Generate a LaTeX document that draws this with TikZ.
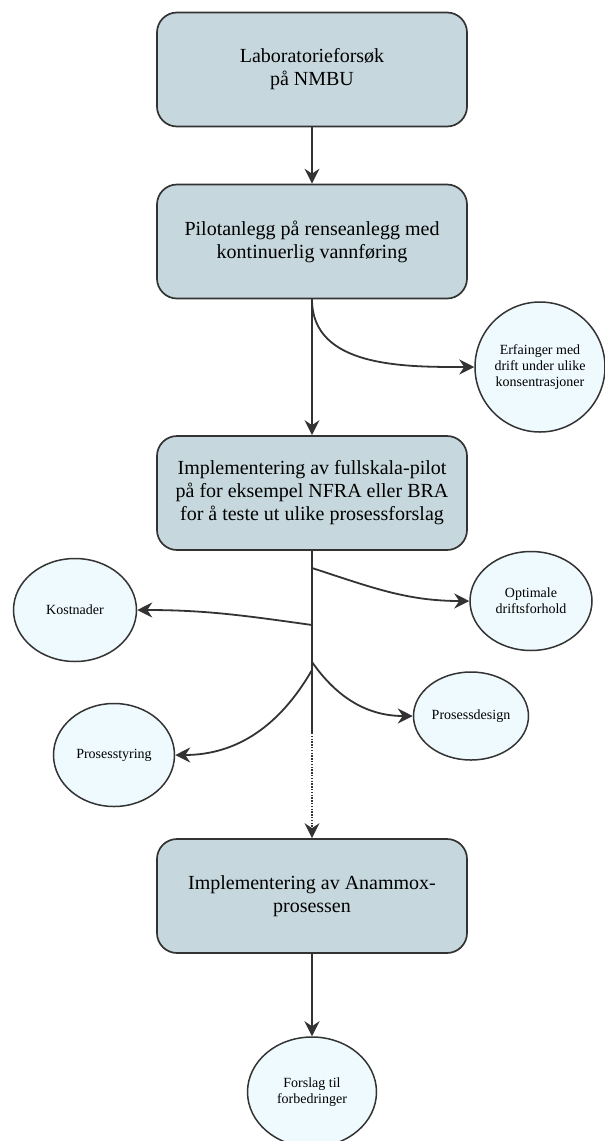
\documentclass[tikz,border=0pt]{standalone}
\usepackage{fontspec}
\setmainfont{Liberation Serif}
\usetikzlibrary{arrows.meta}
\usetikzlibrary{shapes.geometric}
\definecolor{stagefill}{HTML}{C6D8DD}
\definecolor{resultfill}{HTML}{EFFAFE}
\definecolor{ink}{HTML}{333333}
\tikzset{stage/.style = {draw = ink, line width = 1.7pt, fill = stagefill, rounded corners = 20pt,
                         minimum width = 310pt, minimum height = 114pt, align = center,
                         font = \fontsize{20}{23}\selectfont}}
\tikzset{result/.style = {draw = ink, line width = 1.5pt, fill = resultfill, ellipse, inner sep = 0,
                          align = center, font = \fontsize{14}{16}\selectfont}}
\tikzset{flow/.style = {draw = ink, line width = 1.8pt, -{Stealth[length = 15pt, width = 15pt, inset = 5pt]}}}

\begin{document}
\begin{tikzpicture}[x=1pt, y=1pt]
          \useasboundingbox (0, 0) rectangle (605, -1141);

          \node [stage] (lab) at (312, -69.5) {Laboratorieforsøk\\på NMBU};
          \node [stage] (pilot) at (312, -241.5) {Pilotanlegg på renseanlegg med\\kontinuerlig vannføring};
          \node [stage] (fullscale) at (312, -493) {Implementering av fullskala-pilot\\på for eksempel NFRA eller BRA\\for å teste ut ulike prosessforslag};
          \node [stage] (anammox) at (312, -896) {Implementering av Anammox-\\prosessen};

          \node [result, minimum width = 130pt, minimum height = 130pt] (erfaring) at (540, -367) {Erfainger med\\drift under ulike\\konsentrasjoner};
          \node [result, minimum width = 123pt, minimum height = 103pt] (kost) at (75, -610) {Kostnader};
          \node [result, minimum width = 122pt, minimum height = 99pt] (optimal) at (531, -601) {Optimale\\driftsforhold};
          \node [result, minimum width = 115pt, minimum height = 88pt] (design) at (471, -716) {Prosessdesign};
          \node [result, minimum width = 121pt, minimum height = 103pt] (styring) at (114, -755) {Prosesstyring};
          \node [result, minimum width = 129pt, minimum height = 110pt] (forslag) at (312, -1092) {Forslag til\\forbedringer};

          % branch points on the stem below the full scale pilot
          \coordinate (toopt) at (312, -568);
          \coordinate (tokost) at (312, -625);
          \coordinate (todesign) at (312, -662);
          \coordinate (tostyring) at (312, -670);
          \coordinate (stemend) at (312, -733);

          \draw [flow] (lab) -- (pilot);
          \draw [flow] (pilot) -- (fullscale);
          \draw [flow] (pilot.south) to [out = -90, in = 180] (erfaring.west);

          \draw [draw = ink, line width = 1.8pt] (fullscale.south) -- (stemend);
          \draw [flow, line width = 1.3pt, dash pattern = on 1.4pt off 1.4pt] (stemend) -- (anammox.north);

          \draw [flow] (toopt) to [out = -18, in = 180] (optimal.west);
          \draw [flow] (tokost) to [out = 172, in = 0] (kost.east);
          \draw [flow] (todesign) to [out = -55, in = 180] (design.west);
          \draw [flow] (tostyring) to [out = -120, in = 0] (styring.east);

          \draw [flow] (anammox) -- (forslag);
        \end{tikzpicture}
\end{document}
